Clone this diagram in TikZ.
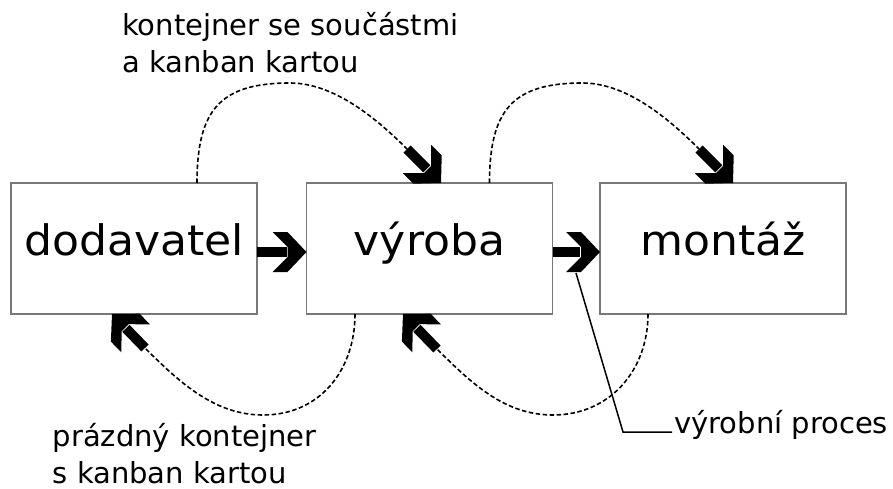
\documentclass[tikz,border=0pt]{standalone}
\usepackage{fontspec}
\setmainfont{DejaVu Sans}
\newfontfamily\stagefont{DejaVu Sans}[FakeStretch=1.05]
\usetikzlibrary{arrows.meta,calc}

% Thick chevron tip: arms at 45 degrees, arm ends cut parallel to the shaft
\pgfdeclarearrow{
  name = Chevron,
  setup code = {
    \pgfarrowssettipend{0pt}
    \pgfarrowssetlineend{-20pt}
    \pgfarrowssetbackend{-33pt}
    \pgfarrowssetvisualbackend{-33pt}
    \pgfarrowshullpoint{0pt}{0pt}
    \pgfarrowsupperhullpoint{-33pt}{20pt}
  },
  drawing code = {
    \pgfpathmoveto{\pgfqpoint{0pt}{0pt}}
    \pgfpathlineto{\pgfqpoint{-19pt}{20pt}}
    \pgfpathlineto{\pgfqpoint{-34pt}{20pt}}
    \pgfpathlineto{\pgfqpoint{-19pt}{5pt}}
    \pgfpathlineto{\pgfqpoint{-19pt}{-5pt}}
    \pgfpathlineto{\pgfqpoint{-34pt}{-20pt}}
    \pgfpathlineto{\pgfqpoint{-19pt}{-20pt}}
    \pgfpathclose
    \pgfusepathqfill
  },
}

\definecolor{framegray}{RGB}{120,120,120}

\tikzset{
  stage/.style={draw=framegray, line width=1.4pt, minimum width=246pt,
    minimum height=131pt, inner sep=0pt, outer sep=0pt,
    text height=20pt, text depth=7pt,
    font=\stagefont\fontsize{42pt}{50pt}\selectfont},
  flow/.style={line width=1.6pt, dash pattern=on 4.5pt off 2.5pt},
  shaft/.style={line width=10pt, -Chevron},
  caption/.style={inner sep=0pt, align=left,
    font=\fontsize{29pt}{37pt}\selectfont},
  leader/.style={line width=1.5pt},
}

\begin{document}
\begin{tikzpicture}[x=1pt, y=-1pt]
\useasboundingbox (0,0) rectangle (893,489);

% the three stages
\node[stage] (b1) at (134,248.5) {dodavatel};
\node[stage] (b2) at (429.5,248.5) {výroba};
\node[stage] (b3) at (723,248.5) {montáž};

% material flow between stages
\draw[shaft] ($(b1.east)+(0,3.5)$) -- ($(b2.west)+(0,3.5)$);
\draw[shaft] ($(b2.east)+(0,3.5)$) -- ($(b3.west)+(0,3.5)$);

% full containers travelling forward (upper loops)
\coordinate (ua) at ($(b1.north west)+(186,0)$);
\coordinate (up) at ($(ua)+(93,-100)$);
\coordinate (ut) at ($(b2.north west)+(134.5,0)$);
\coordinate (us) at ($(ut)+(-34,-34)$);
\draw[flow] (ua) .. controls +(0,-73) and +(-70,0) .. (up)
  .. controls +(45,0) and +(-29,-29) .. (us);
\draw[shaft] (us) -- (ut);

\coordinate (va) at ($(b2.north west)+(183,0)$);
\coordinate (vp) at ($(va)+(93,-100)$);
\coordinate (vt) at ($(b3.north west)+(133,0)$);
\coordinate (vs) at ($(vt)+(-34,-34)$);
\draw[flow] (va) .. controls +(0,-73) and +(-70,0) .. (vp)
  .. controls +(45,0) and +(-29,-29) .. (vs);
\draw[shaft] (vs) -- (vt);

% empty containers returning (lower loops)
\coordinate (da) at ($(b2.south west)+(48.5,0)$);
\coordinate (dp) at ($(da)+(-92,101)$);
\coordinate (dt) at ($(b1.south west)+(101,0)$);
\coordinate (ds) at ($(dt)+(33,34)$);
\draw[flow] (da) .. controls +(0,56) and +(57,0) .. (dp)
  .. controls +(-48,0) and +(35,35) .. (ds);
\draw[shaft] (ds) -- (dt);

\coordinate (ea) at ($(b3.south west)+(48,0)$);
\coordinate (ep) at ($(ea)+(-95,101)$);
\coordinate (et) at ($(b2.south west)+(96.5,0)$);
\coordinate (es) at ($(et)+(34,35)$);
\draw[flow] (ea) .. controls +(0,56) and +(57,0) .. (ep)
  .. controls +(-48,0) and +(35,35) .. (es);
\draw[shaft] (es) -- (et);

% captions (base anchor sits on the last line)
\node[caption, anchor=base west] (ctop) at (122,73)
  {kontejner se součástmi\\a kanban kartou};
\node[caption, anchor=base west] (cbot) at (52.5,483)
  {prázdný kontejner\\s kanban kartou};
\node[caption, anchor=base west] (cproc) at (674,433) {výrobní proces};

% leader to the production process label
\coordinate (lp) at ($(b2.east)+(23.5,24.5)$);
\draw[leader] (lp) -- ($(cproc.base west)+(-51,-1)$) -- ($(cproc.base west)+(-2,-1)$);
\end{tikzpicture}
\end{document}
